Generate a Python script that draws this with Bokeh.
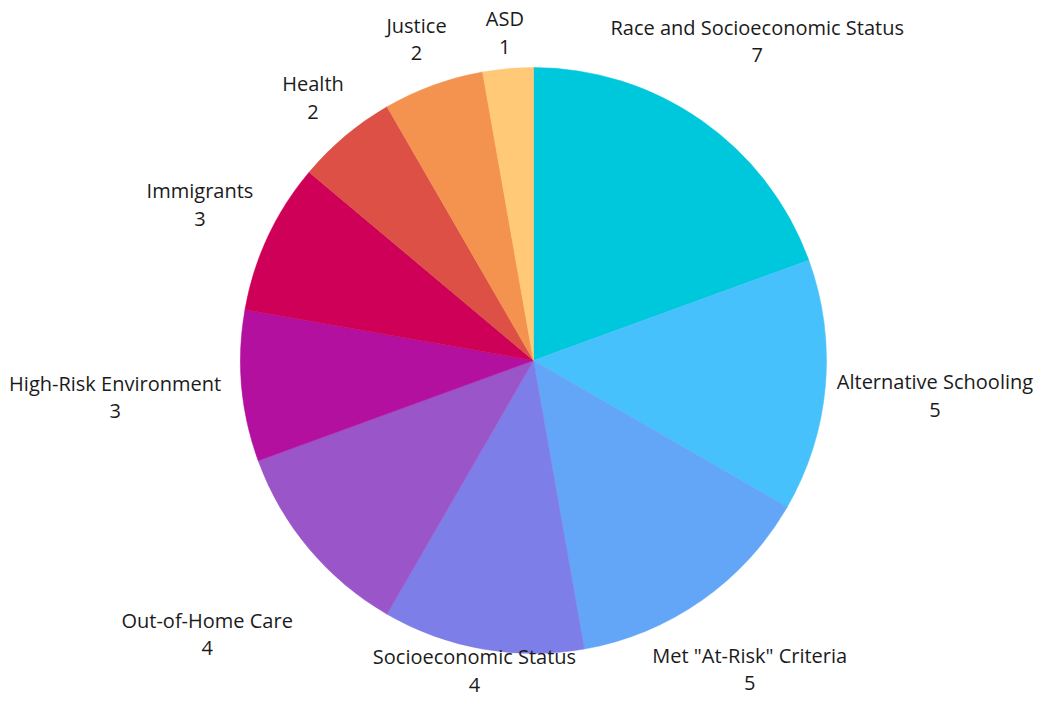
import math
from bokeh.plotting import figure
from bokeh.models import Range1d, ColumnDataSource
from bokeh.core.properties import value
from bokeh.embed import file_html
from bokeh.resources import INLINE

# ---- data ----
categories = ["Race and Socioeconomic Status", "Alternative Schooling", 'Met "At-Risk" Criteria',
              "Socioeconomic Status", "Out-of-Home Care", "High-Risk Environment",
              "Immigrants", "Health", "Justice", "ASD"]
counts = [7, 5, 5, 4, 4, 3, 3, 2, 2, 1]
colors = ["#00C8DC", "#46C1FC", "#63A6F7", "#7D7EE7", "#9A56C9", "#B3109F",
          "#CE0057", "#DC5046", "#F49350", "#FFC978"]

# ---- layout ----
W, H = 1037, 698
CX, CY = 533, 360          # pie centre in picture pixels
R = 293
label_dist = [390, 403, 377, 340, 426, 420, 368, 343, 342, 329]

total = sum(counts)
starts, ends, mids = [], [], []
acc = 0.0
for c in counts:
    a0 = math.pi / 2 - 2 * math.pi * acc / total
    acc += c
    a1 = math.pi / 2 - 2 * math.pi * acc / total
    starts.append(a0)
    ends.append(a1)
    mids.append((a0 + a1) / 2)

src = ColumnDataSource(dict(start=starts, end=ends, color=colors))

p = figure(width=W, height=H, output_backend="svg", toolbar_location=None,
           x_range=Range1d(-CX, -CX + W),
           y_range=Range1d(CY - H, CY),
           x_axis_type=None, y_axis_type=None, min_border=0)
p.outline_line_color = None
p.grid.visible = False
p.background_fill_color = "white"
p.border_fill_color = "white"

p.wedge(x=0, y=0, radius=R, start_angle="start", end_angle="end",
        direction="clock", fill_color="color", line_color="color",
        line_width=0.5, source=src)

lx = [d * math.cos(m) for d, m in zip(label_dist, mids)]
ly = [d * math.sin(m) for d, m in zip(label_dist, mids)]
# keep bottom label inside the canvas
ly = [max(y, -(H - CY) + 28) for y in ly]

p.text(x=lx, y=[y + 14 for y in ly], text=categories,
       text_font=value("Open Sans"), text_font_size="20px", text_color="#1b1b1b",
       text_align="center", text_baseline="middle")
p.text(x=lx, y=[y - 14 for y in ly], text=[str(c) for c in counts],
       text_font=value("Open Sans"), text_font_size="20px", text_color="#1b1b1b",
       text_align="center", text_baseline="middle")

open("out.html", "w").write(file_html(p, INLINE))
